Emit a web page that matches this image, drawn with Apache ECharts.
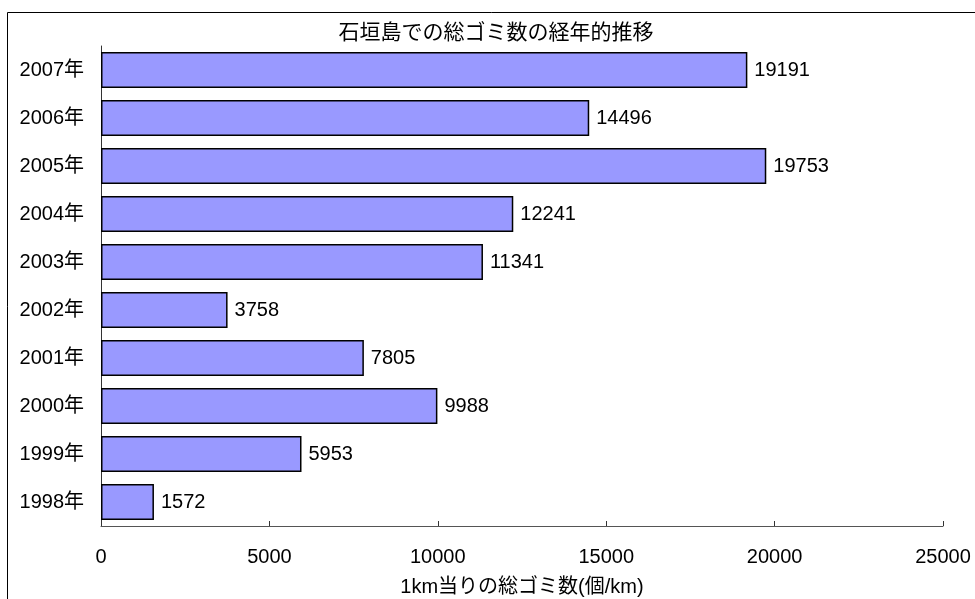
<!DOCTYPE html>
<html>
<head>
<meta charset="utf-8">
<style>
  html, body { margin: 0; padding: 0; background: #fff; }
  #chart { width: 975px; height: 599px; }
</style>
<script src="https://cdn.jsdelivr.net/npm/echarts@6/dist/echarts.min.js"></script>
</head>
<body>
<div id="chart"></div>
<script>
// Years, listed bottom to top on the category axis
const years = ['1998年', '1999年', '2000年', '2001年', '2002年', '2003年', '2004年', '2005年', '2006年', '2007年'];
// Total litter per km for each year
const litterPerKm = [1572, 5953, 9988, 7805, 3758, 11341, 12241, 19753, 14496, 19191];
const titleText = '石垣島での総ゴミ数の経年的推移';
const xAxisName = '1km当りの総ゴミ数(個/km)';

const font = '"Liberation Sans", Arial, "Noto Sans CJK JP", sans-serif';
const chart = echarts.init(document.getElementById('chart'), null, { renderer: 'canvas' });

chart.setOption({
  backgroundColor: '#fff',
  animation: false,
  textStyle: { fontFamily: font },
  title: {
    text: titleText,
    left: 491,
    textAlign: 'center',
    top: 18,
    textStyle: { fontSize: 21, fontWeight: 'normal', color: '#000', fontFamily: font }
  },
  graphic: [{
    type: 'rect',
    shape: { x: 7.5, y: 12.5, width: 1100, height: 700 },
    style: { fill: 'none', stroke: '#000', lineWidth: 1 },
    silent: true,
    z: -1
  }],
  grid: { left: 101, right: 32, top: 46, bottom: 73, outerBoundsMode: 'none', containLabel: false },
  xAxis: {
    type: 'value',
    min: 0,
    max: 25000,
    interval: 5000,
    name: xAxisName,
    nameLocation: 'middle',
    nameGap: 51,
    nameTextStyle: { fontSize: 20, color: '#000', fontFamily: font },
    axisLine: { show: true, lineStyle: { color: '#555', width: 1 } },
    axisTick: { show: true, inside: true, length: 5, lineStyle: { color: '#333' } },
    axisLabel: {
      fontSize: 20, color: '#000', margin: 21, fontFamily: font,
      formatter: v => String(v)
    },
    splitLine: { show: false }
  },
  yAxis: {
    type: 'category',
    data: years,
    axisLine: { show: true, lineStyle: { color: '#333', width: 1 } },
    axisTick: { show: false },
    axisLabel: { fontSize: 20, color: '#000', margin: 17, fontFamily: font },
    splitLine: { show: false }
  },
  series: [{
    type: 'bar',
    data: litterPerKm,
    barCategoryGap: '25%',
    itemStyle: { color: '#9999ff', borderColor: '#000', borderWidth: 1.5 },
    label: {
      show: true,
      position: 'right',
      distance: 7,
      fontSize: 20,
      color: '#000',
      fontFamily: font,
      formatter: p => String(p.value)
    }
  }]
});
</script>
</body>
</html>
